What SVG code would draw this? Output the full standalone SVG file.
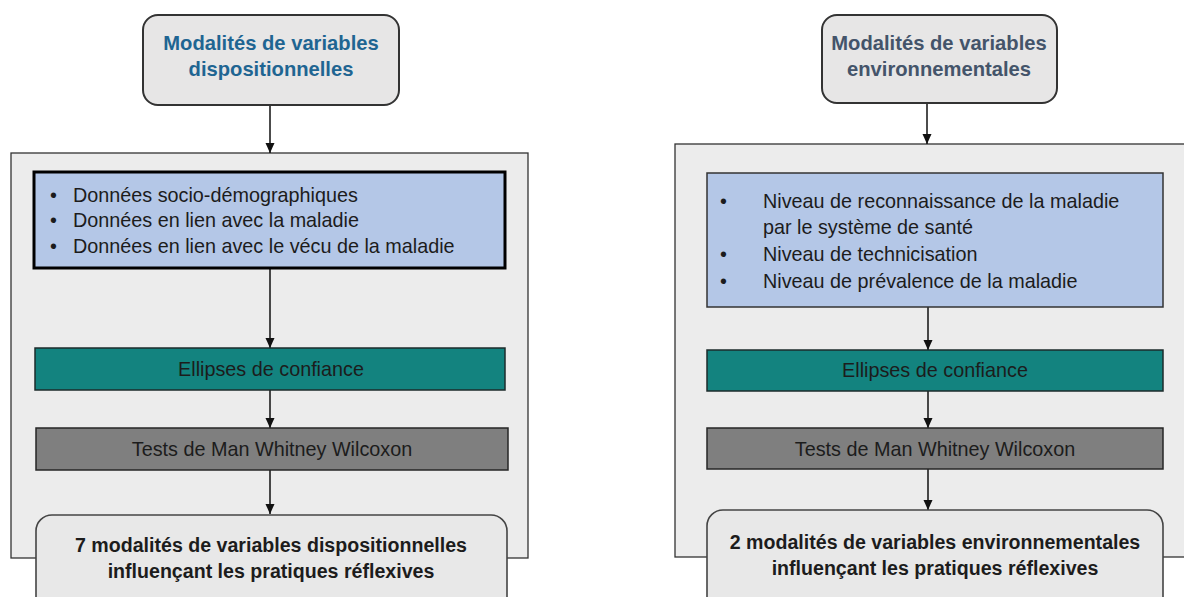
<svg xmlns="http://www.w3.org/2000/svg" width="1184" height="597" viewBox="0 0 1184 597">
<defs>
<marker id="ah" markerWidth="12" markerHeight="12" refX="10" refY="5.5" orient="auto" markerUnits="userSpaceOnUse">
<path d="M0,1 L10,5.5 L0,10 Z" fill="#111"/>
</marker>
<style>
text{font-family:"Liberation Sans",Arial,sans-serif;}
.cont{fill:#ECECEC;stroke:#333;stroke-width:1.3;}
.top{fill:#E7E6E6;stroke:#333;stroke-width:2;}
.blue{fill:#B4C7E7;}
.teal{fill:#13837F;stroke:#1d2b2b;stroke-width:1.5;}
.gray{fill:#7F7F7F;stroke:#262626;stroke-width:1.5;}
.bot{fill:#E8E8E8;stroke:#444;stroke-width:1.6;}
.t{font-size:19.8px;fill:#1c1c1c;}
.c{text-anchor:middle;}
.b{font-weight:bold;font-size:19.6px;}
.title{font-size:20.2px;font-weight:bold;text-anchor:middle;}
.con{stroke:#111;stroke-width:1.5;fill:none;marker-end:url(#ah);}
</style>
</defs>
<rect width="1184" height="597" fill="#fff"/>
<g id="left-container"><rect class="cont" x="11" y="153" width="517" height="405"/></g>
<g id="right-container"><rect class="cont" x="675" y="144" width="520" height="413"/></g>
<g id="connectors">
<line class="con" x1="270" y1="105" x2="270" y2="153"/>
<line class="con" x1="270" y1="268" x2="270" y2="348"/>
<line class="con" x1="270" y1="390" x2="270" y2="428"/>
<line class="con" x1="270" y1="470" x2="270" y2="514"/>
<line class="con" x1="927" y1="103" x2="927" y2="144"/>
<line class="con" x1="928" y1="307" x2="928" y2="350"/>
<line class="con" x1="928" y1="391" x2="928" y2="428"/>
<line class="con" x1="928" y1="469" x2="928" y2="510"/>
</g>
<g id="left-top">
<rect class="top" x="143" y="15" width="256" height="90" rx="15"/>
<text class="title" x="271" y="50" fill="#1F6592">Modalités de variables</text>
<text class="title" x="271" y="76" fill="#1F6592">dispositionnelles</text>
</g>
<g id="left-list">
<rect class="blue" x="34" y="172" width="471" height="96" stroke="#000" stroke-width="3"/>
<text class="t" x="50" y="202">•</text><text class="t" x="73" y="202">Données socio-démographiques</text>
<text class="t" x="50" y="227">•</text><text class="t" x="73" y="227">Données en lien avec la maladie</text>
<text class="t" x="50" y="253">•</text><text class="t" x="73" y="253">Données en lien avec le vécu de la maladie</text>
</g>
<g id="left-ellipses">
<rect class="teal" x="35" y="348" width="470" height="42"/>
<text class="t c" x="271" y="376" fill="#1e2e36">Ellipses de confiance</text>
</g>
<g id="left-tests">
<rect class="gray" x="36" y="428" width="472" height="42"/>
<text class="t c" x="272" y="456">Tests de Man Whitney Wilcoxon</text>
</g>
<g id="left-result">
<rect class="bot" x="36" y="515" width="471" height="100" rx="16"/>
<text class="t c b" x="271" y="552" fill="#000">7 modalités de variables dispositionnelles</text>
<text class="t c b" x="271" y="578" fill="#000">influençant les pratiques réflexives</text>
</g>
<g id="right-top">
<rect class="top" x="822" y="15" width="235" height="88" rx="15"/>
<text class="title" x="939" y="50" fill="#44546A">Modalités de variables</text>
<text class="title" x="939" y="76" fill="#44546A">environnementales</text>
</g>
<g id="right-list">
<rect class="blue" x="707" y="173" width="456" height="134" stroke="#333" stroke-width="1.5"/>
<text class="t" x="720" y="208">•</text><text class="t" x="763" y="208">Niveau de reconnaissance de la maladie</text>
<text class="t" x="763" y="234">par le système de santé</text>
<text class="t" x="720" y="261">•</text><text class="t" x="763" y="261">Niveau de technicisation</text>
<text class="t" x="720" y="288">•</text><text class="t" x="763" y="288">Niveau de prévalence de la maladie</text>
</g>
<g id="right-ellipses">
<rect class="teal" x="707" y="350" width="456" height="41"/>
<text class="t c" x="935" y="377" fill="#1e2e36">Ellipses de confiance</text>
</g>
<g id="right-tests">
<rect class="gray" x="707" y="428" width="456" height="41"/>
<text class="t c" x="935" y="456">Tests de Man Whitney Wilcoxon</text>
</g>
<g id="right-result">
<rect class="bot" x="707" y="510" width="456" height="105" rx="16"/>
<text class="t c b" x="935" y="549" fill="#000">2 modalités de variables environnementales</text>
<text class="t c b" x="935" y="575" fill="#000">influençant les pratiques réflexives</text>
</g>
</svg>
